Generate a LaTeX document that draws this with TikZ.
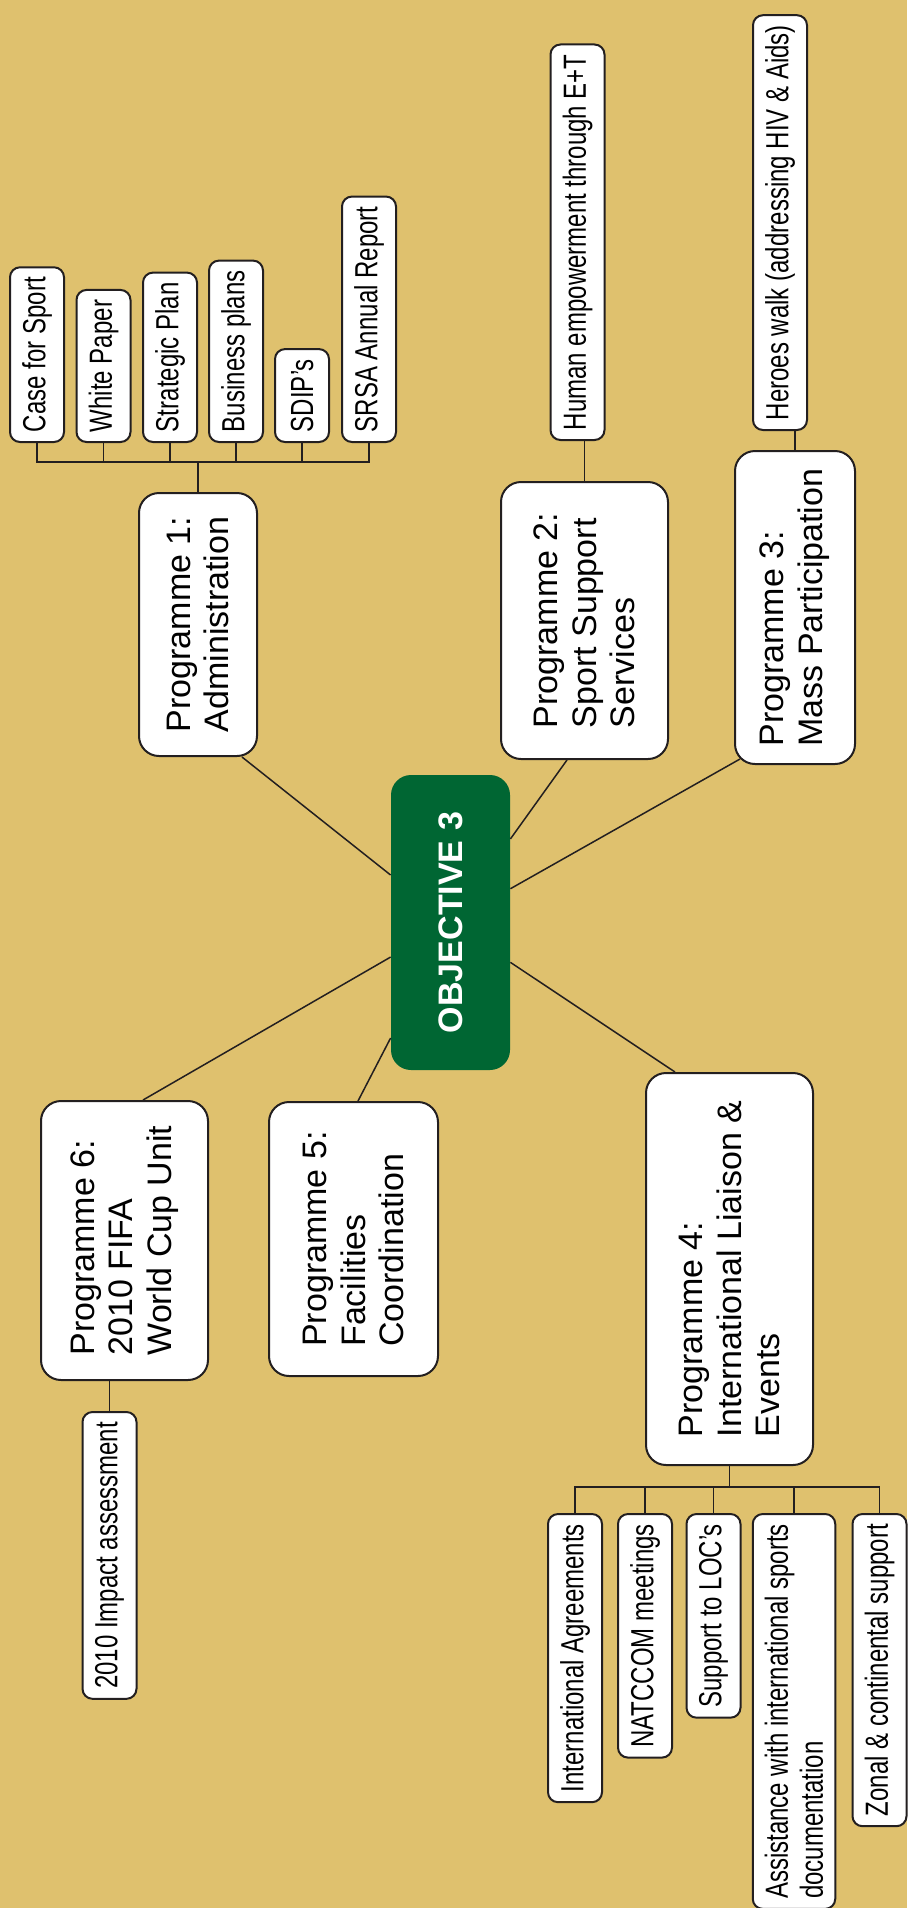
\documentclass[tikz,border=0pt]{standalone}
\usepackage{fontspec}
\setmainfont{Liberation Sans}
\newfontfamily\narrowfont[FakeStretch=0.75]{Liberation Sans}
\definecolor{gold}{RGB}{223,193,110}
\definecolor{objgreen}{RGB}{0,102,51}
\definecolor{inkline}{RGB}{35,31,32}

\begin{document}
\begin{tikzpicture}[x=0.5pt,y=-0.5pt,
		prog/.style={rotate=90,draw=inkline,line width=1pt,fill=white,rounded corners=10pt,
			align=left,inner sep=4pt,font=\fontsize{17}{19.35}\selectfont},
		leaf/.style={rotate=90,draw=inkline,line width=1pt,fill=white,rounded corners=5pt,
			align=left,inner xsep=5pt,inner ysep=6pt,minimum height=27pt,
			font=\narrowfont\fontsize{16}{17.5}\selectfont},
		link/.style={draw=inkline,line width=0.75pt}]
			% \draw[help lines,step=100] (0,0) grid (907,1908);
			\fill[gold] (0,0) rectangle (907,1908);
			\useasboundingbox (0,0) rectangle (907,1908);
			\node[rotate=90,fill=objgreen,rounded corners=10pt,minimum width=147.5pt,minimum height=59.5pt,
				text=white,font=\fontsize{17}{20}\selectfont\bfseries] (obj) at (450.5,922.5) {OBJECTIVE 3};
			\node[prog,minimum width=131.5pt,minimum height=59pt] (p1) at (198,624.5) {Programme 1:\\Administration};
			\node[prog,minimum width=138.5pt,minimum height=83.5pt] (p2) at (584.5,620.5) {Programme 2:\\Sport Support\\Services};
			\node[prog,minimum width=156.5pt,minimum height=60pt] (p3) at (795,607.5) {Programme 3:\\Mass Participation};
			\node[prog,minimum width=196pt,minimum height=83.5pt] (p4) at (729.5,1269) {Programme 4:\\International Liaison \&\\Events};
			\node[prog,minimum width=137pt,minimum height=84.5pt] (p5) at (353.5,1239) {Programme 5:\\Facilities\\Coordination};
			\node[prog,minimum width=139.5pt,minimum height=83.5pt] (p6) at (124.5,1240.5) {Programme 6:\\2010 FIFA\\World Cup Unit};
			\draw[link] (obj) -- ([xshift=22pt]p1.west);
			\draw[link] (obj) -- ([xshift=-8.75pt]p2.west);
			\draw[link] (obj) -- ([xshift=3pt,yshift=3pt]p3.north west);
			\draw[link] (obj) -- ([xshift=-27.25pt]p4.east);
			\draw[link] (obj) -- ([xshift=2.25pt]p5.east);
			\draw[link] (obj) -- ([xshift=9.25pt]p6.east);
			% Programme 1
			\foreach \name/\x/\txt in {a/37/Case for Sport,b/103.5/White Paper,c/170/Strategic Plan,
				d/236/Business plans,e/302/SDIP’s,f/369/SRSA Annual Report}{
				\node[leaf,anchor=west] (p1\name) at (\x,443) {\txt};
				\draw[link] (p1.east) -- ++(0,-30) -| (p1\name.west);
			}
			% Programme 2 and 3
			\node[leaf,anchor=west] (p2a) at (577.5,441) {Human empowerment through E+T};
			\draw[link] (p2.east) -- (p2.east |- p2a.west);
			\node[leaf,anchor=west] (p3a) at (780,431) {Heroes walk (addressing HIV \& Aids)};
			\draw[link] (p3.east) -- (p3.east |- p3a.west);
			% Programme 4
			\foreach \name/\x/\txt in {a/575/International Agreements,b/645/NATCCOM meetings,c/713.5/Support to LOC’s,
				d/794/{Assistance with international sports\\documentation},e/879.5/Zonal \& continental support}{
				\node[leaf,anchor=east] (p4\name) at (\x,1513) {\txt};
				\draw[link] (p4.west) -- ++(0,21) -| (p4\name.east);
			}
			% Programme 6
			\node[leaf,anchor=east] (p6a) at (109.5,1411) {2010 Impact assessment};
			\draw[link] (p6a.east) -- (p6a.east |- p6.west);
		\end{tikzpicture}
\end{document}
